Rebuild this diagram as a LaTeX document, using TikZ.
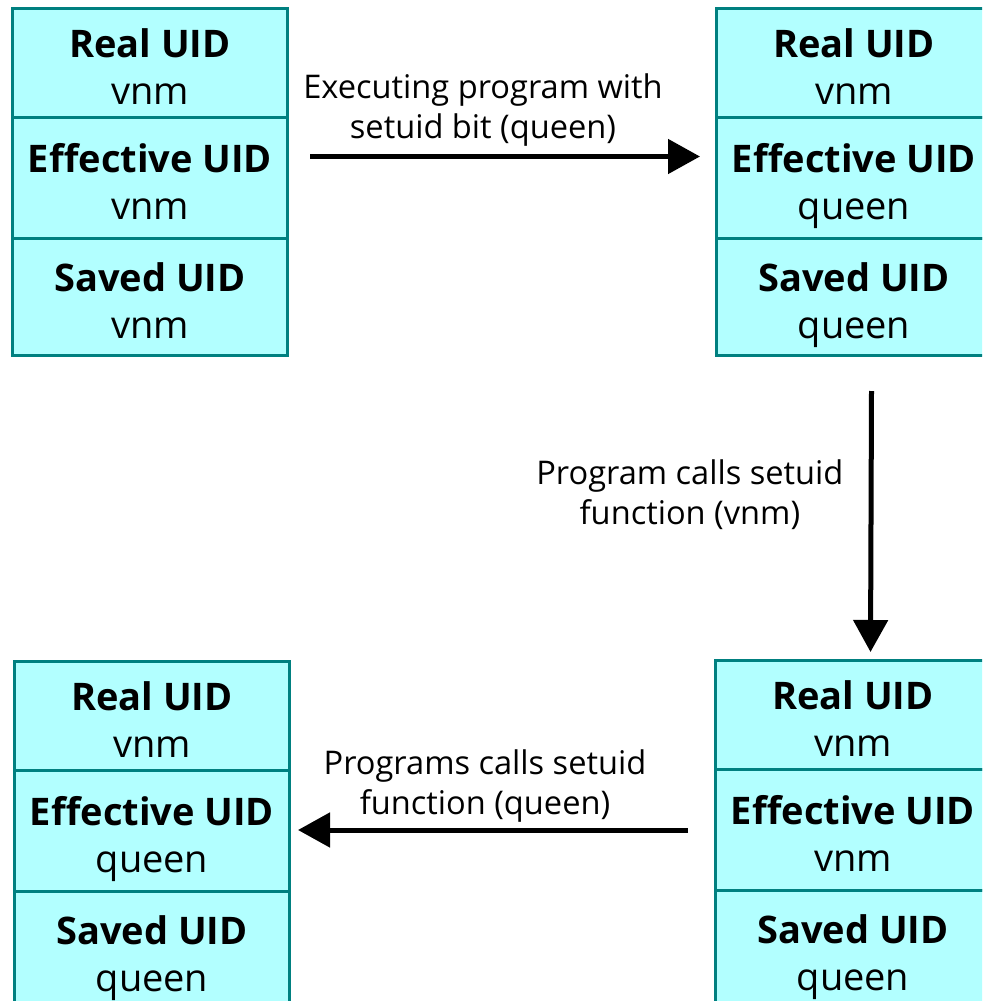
\documentclass[tikz,border=0pt]{standalone}
\usepackage{fontspec}
\setmainfont{Open Sans}
\usetikzlibrary{positioning, arrows.meta}
\definecolor{cellfill}{RGB}{178,255,255}
\definecolor{celledge}{RGB}{0,128,128}

\begin{document}
\begin{tikzpicture}[x=0.5pt, y=-0.5pt,
    cell/.style={draw=celledge, fill=cellfill, line width=1.5pt, minimum width=137.5pt,
        inner sep=0pt, align=center, text height=41pt, text depth=0pt, anchor=north west,
        font=\fontsize{19}{23.5}\selectfont},
    toprow/.style={cell, minimum height=54.5pt},
    midrow/.style={cell, minimum height=60.5pt},
    lowrow/.style={cell, minimum height=58.5pt},
    flow/.style={line width=2.5pt, -{Triangle[length=16pt, width=17pt]}},
    note/.style={align=center, inner sep=0pt, font=\fontsize{16.3}{20}\selectfont}]
    \useasboundingbox (0, 0) rectangle (982, 1001);
    \clip (0, 0) rectangle (982, 1001);

    % before exec
    \node [toprow] (tl1) at (11, 7) {\textbf{Real UID}\\vnm};
    \node [midrow] (tl2) at (11, 116) {\textbf{Effective UID}\\vnm};
    \node [lowrow] (tl3) at (11, 237) {\textbf{Saved UID}\\vnm};

    % after exec
    \node [toprow] (tr1) at (715, 7) {\textbf{Real UID}\\vnm};
    \node [midrow] (tr2) at (715, 116) {\textbf{Effective UID}\\queen};
    \node [lowrow] (tr3) at (715, 237) {\textbf{Saved UID}\\queen};

    % after setuid(vnm)
    \node [toprow] (br1) at (714, 659) {\textbf{Real UID}\\vnm};
    \node [midrow] (br2) at (714, 768) {\textbf{Effective UID}\\vnm};
    \node [lowrow] (br3) at (714, 889) {\textbf{Saved UID}\\queen};

    % after setuid(queen)
    \node [toprow] (bl1) at (13, 660) {\textbf{Real UID}\\vnm};
    \node [midrow] (bl2) at (13, 769) {\textbf{Effective UID}\\queen};
    \node [lowrow] (bl3) at (13, 890) {\textbf{Saved UID}\\queen};

    \draw [flow] ([shift={(21,-21.5)}]tl2.east) -- ([shift={(-15,-21.5)}]tr2.west)
        node [note, midway, above=4pt, xshift=-11pt] {Executing program with\\setuid bit (queen)};
    \draw [flow] ([shift={(17.5,34)}]tr3.south) -- ([shift={(17.5,-7)}]br1.north)
        node [note, midway, left=12.5pt, yshift=13.5pt] {Program calls setuid\\function (vnm)};
    \draw [flow] ([shift={(-26,0)}]br2.west) -- ([shift={(7,-1)}]bl2.east)
        node [note, midway, above=2.5pt, xshift=-4pt] {Programs calls setuid\\function (queen)};
\end{tikzpicture}
\end{document}
